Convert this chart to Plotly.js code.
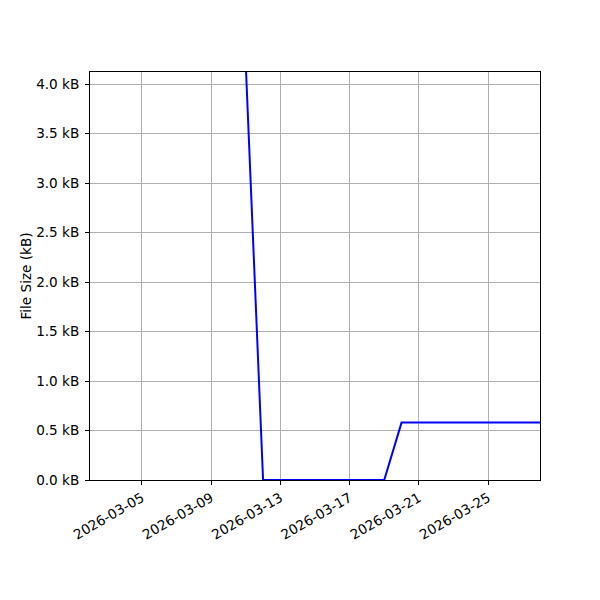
<!DOCTYPE html>
<html>
<head>
<meta charset="utf-8">
<script src="https://cdn.plot.ly/plotly-3.0.1.min.js"></script>
<style>html,body{margin:0;padding:0;background:#fff}#chart{width:600px;height:600px}</style>
</head>
<body>
<div id="chart"></div>
<script>
const dates = ["2026-03-11","2026-03-12","2026-03-13","2026-03-14","2026-03-15","2026-03-16","2026-03-17","2026-03-18","2026-03-19","2026-03-20","2026-03-21","2026-03-22","2026-03-23","2026-03-24","2026-03-25","2026-03-26","2026-03-27","2026-03-28"];
const sizesKB = [4.2,0,0,0,0,0,0,0,0,0.58,0.58,0.58,0.58,0.58,0.58,0.58,0.58,0.58];
const xRange = ["2026-03-02","2026-03-28"];
const yRange = [0, 4.124];
const yTitle = "File Size (kB)";

const font = {family: "DejaVu Sans", size: 13.6, color: "#000"};
Plotly.newPlot("chart", [{
  x: dates, y: sizesKB, type: "scatter", mode: "lines",
  line: {color: "#0000ff", width: 2}, hoverinfo: "skip"
}], {
  width: 600, height: 600,
  margin: {l: 90, r: 60, t: 72, b: 120},
  paper_bgcolor: "#fff", plot_bgcolor: "#fff",
  font: font,
  showlegend: false,
  xaxis: {
    type: "date", range: xRange, autorange: false,
    tick0: "2026-03-05", dtick: 4*86400000, tickformat: "%Y-%m-%d",
    tickangle: -30, ticks: "outside", ticklen: 4, tickwidth: 1, tickcolor: "#000",
    showgrid: true, gridcolor: "#b0b0b0", gridwidth: 1,
    showline: true, linecolor: "#000", linewidth: 1, mirror: true,
    zeroline: false, tickfont: font
  },
  yaxis: {
    range: yRange, autorange: false,
    tick0: 0, dtick: 0.5, tickformat: ".1f", ticksuffix: " kB",
    ticks: "outside", ticklen: 4, tickwidth: 1, tickcolor: "#000",
    ticklabelstandoff: 3,
    showgrid: true, gridcolor: "#b0b0b0", gridwidth: 1,
    showline: true, linecolor: "#000", linewidth: 1, mirror: true,
    zeroline: false, tickfont: font,
    title: {text: yTitle, font: font, standoff: 1}
  }
}, {displayModeBar: false, staticPlot: true});
</script>
</body>
</html>
